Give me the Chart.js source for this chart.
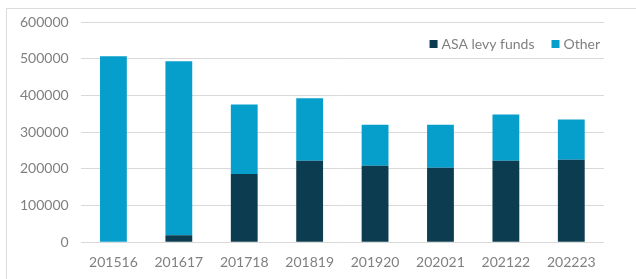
<!DOCTYPE html>
<html>
<head>
<meta charset="utf-8">
<script src="https://cdn.jsdelivr.net/npm/chart.js@4/dist/chart.umd.min.js"></script>
<style>
  html, body { margin: 0; padding: 0; background: #fff; }
  #wrap { position: relative; width: 636px; height: 279px; }
  #frame { position: absolute; left: 6px; top: 8px; right: 0; bottom: 0;
           border-top: 1px solid #dcdcdc; border-left: 1px solid #dcdcdc; }
  canvas { position: absolute; left: 0; top: 0; }
</style>
</head>
<body>
<div id="wrap">
  <div id="frame"></div>
  <canvas id="fundChart" width="636" height="279"></canvas>
</div>
<script>
// financial years
const years = ['201516', '201617', '201718', '201819', '201920', '202021', '202122', '202223'];
// ASA levy funds
const levyFunds = [0, 19000, 186000, 222000, 208000, 203000, 222000, 225000];
// other funding
const otherFunds = [507000, 474000, 189000, 170000, 112000, 117000, 126000, 109000];
// y axis ticks
const yTicks = [0, 100000, 200000, 300000, 400000, 500000, 600000];

const textColor = '#808080';
const font = { family: 'Lato', size: 14 };

// legend drawn inside the plot, top right, like the original
const insideLegend = {
    id: 'insideLegend',
    afterDraw(chart) {
        const c = chart.ctx;
        const area = chart.chartArea;
        c.save();
        c.font = font.size + 'px ' + font.family;
        c.textBaseline = 'middle';
        c.textAlign = 'left';
        const y = area.top + 22;
        let x = area.right - 4;
        const items = chart.data.datasets.slice().reverse();
        items.forEach(ds => {
            const w = c.measureText(ds.label).width;
            x -= w;
            c.fillStyle = textColor;
            c.fillText(ds.label, x, y);
            x -= 12;
            c.fillStyle = ds.backgroundColor;
            c.fillRect(x, y - 4, 8, 8);
            x -= 17;
        });
        c.restore();
    }
};

const ctx = document.getElementById('fundChart').getContext('2d');
const fundChart = new Chart(ctx, {
    type: 'bar',
    data: {
        labels: years,
        datasets: [{
            label: 'ASA levy funds',
            data: levyFunds,
            backgroundColor: '#0b3c4f'
        }, {
            label: 'Other',
            data: otherFunds,
            backgroundColor: '#069fcc'
        }]
    },
    options: {
        responsive: false,
        animation: false,
        layout: { padding: { left: 8, right: 32, top: 22, bottom: -4 } },
        datasets: { bar: { categoryPercentage: 1, barPercentage: 0.41 } },
        plugins: {
            tooltip: { enabled: false },
            legend: { display: false }
        },
        scales: {
            x: {
                stacked: true,
                grid: { display: false, drawTicks: false },
                border: { display: false },
                ticks: { color: textColor, font: font, padding: 12 }
            },
            y: {
                stacked: true,
                min: 0,
                max: 600000,
                afterBuildTicks: axis => { axis.ticks = yTicks.map(v => ({ value: v })); },
                grid: { color: '#d9d9d9', drawTicks: false },
                border: { display: false },
                ticks: { color: textColor, font: font, padding: 12, callback: v => String(v) }
            }
        }
    },
    plugins: [insideLegend]
});
</script>
</body>
</html>
